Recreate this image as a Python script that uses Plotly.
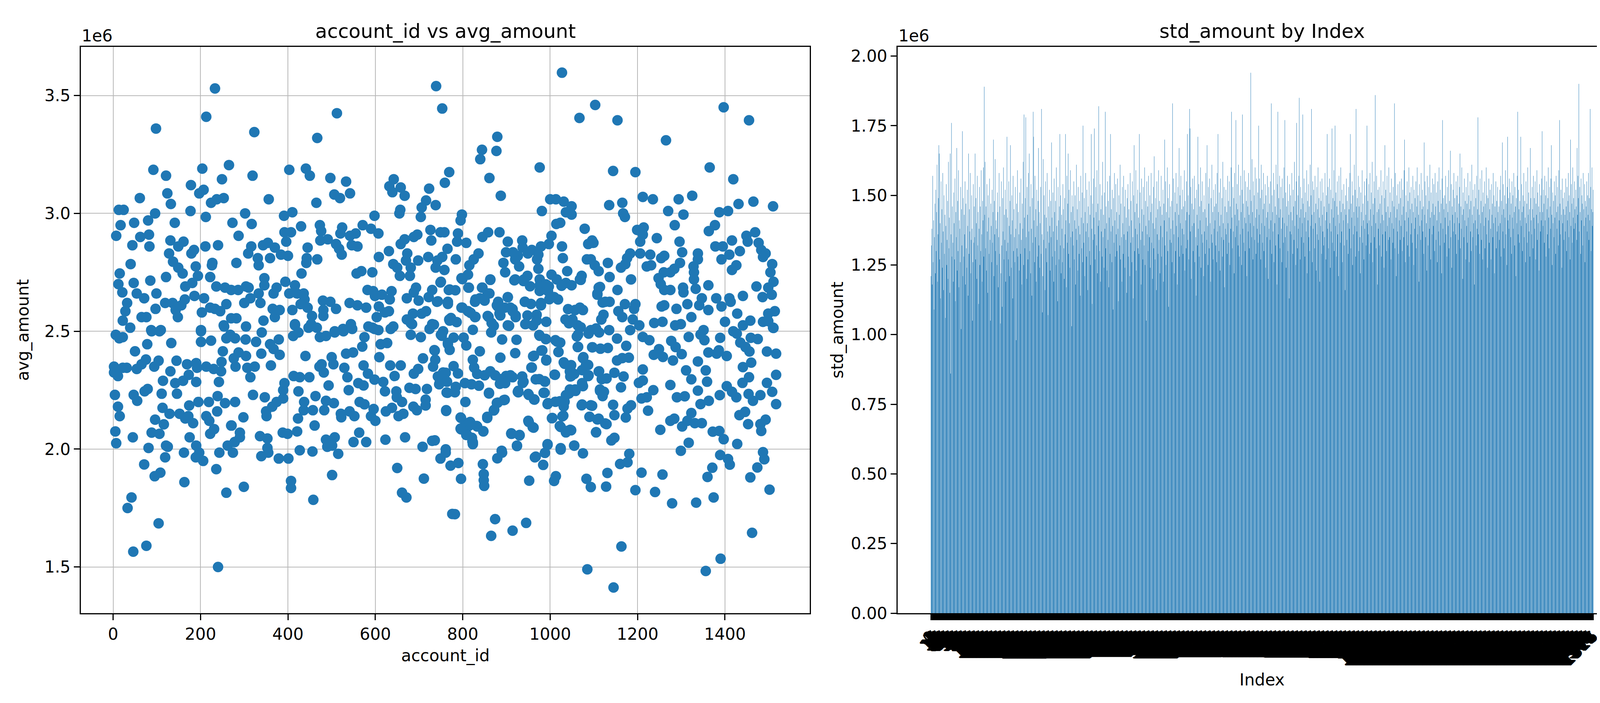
import plotly.graph_objects as go

FONT = "DejaVu Sans"
BLUE = "#1f77b4"

# avg_amount per account_id (millions)
upper_left = [
    (233, 3.53), (213, 3.41), (98, 3.36), (323, 3.345), (467, 3.32), (512, 3.425), (739, 3.54), (753, 3.445),
    (92, 3.185), (121, 3.16), (204, 3.19), (265, 3.205), (249, 3.145), (319, 3.16), (403, 3.185), (441, 3.19),
    (450, 3.16), (497, 3.15), (533, 3.135), (542, 3.085), (506, 3.08), (519, 3.065),
    (642, 3.145), (632, 3.115), (639, 3.09), (658, 3.11), (667, 3.075), (723, 3.105), (738, 3.035), (716, 3.055),
    (706, 3.025), (759, 3.13), (769, 3.175),
    (61, 3.065), (13, 3.015), (24, 3.015), (17, 2.95), (7, 2.905), (48, 2.96), (80, 2.97), (96, 3.0), (124, 3.085),
    (132, 3.04), (141, 2.96), (178, 3.12), (207, 3.10), (197, 3.085), (177, 3.01), (212, 2.985), (224, 3.045),
    (237, 3.06), (253, 3.065), (302, 3.0), (317, 2.955), (273, 2.96), (287, 2.905), (356, 3.06), (391, 2.99),
    (410, 3.005), (392, 2.92), (407, 2.92), (465, 3.045), (430, 2.945), (473, 2.95), (476, 2.925), (598, 2.99),
    (607, 2.915), (590, 2.935), (655, 3.0), (657, 3.015), (704, 2.985), (726, 2.93), (749, 2.92), (758, 2.92),
    (728, 2.885), (524, 2.94), (520, 2.915), (542, 2.905), (555, 2.915), (571, 2.95),
    (474, 2.885), (491, 2.89), (510, 2.87), (517, 2.85), (523, 2.825), (546, 2.865), (559, 2.86),
    (445, 2.855), (431, 2.745), (442, 2.79), (443, 2.81), (467, 2.805),
    (396, 2.88), (400, 2.82), (384, 2.825), (370, 2.855), (354, 2.875), (343, 2.865), (359, 2.81), (331, 2.81),
    (333, 2.78), (309, 2.83), (316, 2.86), (282, 2.79), (240, 2.865), (211, 2.86), (227, 2.79), (226, 2.78),
    (189, 2.775), (194, 2.735), (222, 2.73), (179, 2.83), (185, 2.845), (161, 2.88), (149, 2.86), (131, 2.885),
    (128, 2.83), (137, 2.795), (149, 2.77), (159, 2.745),
    (83, 2.86), (82, 2.91), (62, 2.90), (44, 2.865), (40, 2.785), (15, 2.745), (12, 2.70), (21, 2.665), (47, 2.705),
    (85, 2.715), (99, 2.66), (121, 2.73), (32, 2.62), (28, 2.585), (22, 2.545), (39, 2.515), (54, 2.66), (71, 2.64),
    (65, 2.56), (76, 2.56), (97, 2.595), (106, 2.50), (87, 2.505), (6, 2.485),
    (119, 2.62), (136, 2.62), (143, 2.59), (148, 2.56), (156, 2.61), (164, 2.635), (165, 2.69), (181, 2.705),
    (186, 2.65), (208, 2.64), (203, 2.58), (201, 2.505), (222, 2.60), (233, 2.595), (245, 2.585), (253, 2.525),
    (259, 2.615), (256, 2.685), (236, 2.69), (270, 2.675), (286, 2.675), (304, 2.69), (310, 2.685), (300, 2.62),
    (314, 2.64), (270, 2.555), (282, 2.555), (304, 2.52), (268, 2.485),
    (333, 2.66), (337, 2.62), (344, 2.545), (340, 2.495), (346, 2.725), (346, 2.695), (367, 2.66), (374, 2.685),
    (365, 2.595), (370, 2.56), (381, 2.59), (394, 2.71), (403, 2.66), (416, 2.695), (410, 2.59), (421, 2.66),
    (436, 2.66), (438, 2.635), (429, 2.615), (445, 2.60), (416, 2.525), (453, 2.53), (466, 2.515), (455, 2.565),
    (480, 2.63), (497, 2.625), (481, 2.59), (481, 2.565), (510, 2.595), (541, 2.62), (559, 2.61), (579, 2.60),
    (582, 2.675), (595, 2.67), (599, 2.65), (615, 2.655), (637, 2.67), (633, 2.635), (622, 2.58), (631, 2.585),
    (603, 2.56), (608, 2.605), (584, 2.52), (544, 2.53), (507, 2.50), (526, 2.51), (598, 2.51), (635, 2.51),
    (607, 2.505),
    (641, 2.785), (650, 2.77), (656, 2.735), (631, 2.84), (608, 2.815), (593, 2.75), (557, 2.745), (568, 2.755),
    (673, 2.83), (670, 2.80), (681, 2.77), (679, 2.735), (658, 2.87), (667, 2.89), (688, 2.90), (696, 2.91),
    (698, 2.80), (721, 2.815), (742, 2.80), (753, 2.815), (738, 2.77), (758, 2.76), (765, 2.85), (693, 2.685),
    (688, 2.665), (672, 2.64), (699, 2.63), (722, 2.645), (730, 2.675), (750, 2.71), (741, 2.625), (768, 2.675),
    (766, 2.625), (672, 2.55), (686, 2.575), (706, 2.575), (716, 2.585), (730, 2.53), (755, 2.50), (769, 2.55),
    (684, 2.53),
]

lower_left = [
    (240, 1.50), (46, 1.565), (76, 1.59), (104, 1.685), (33, 1.75), (42, 1.795), (163, 1.86), (95, 1.885),
    (108, 1.90), (71, 1.935), (236, 1.915), (259, 1.815), (299, 1.84), (407, 1.865), (407, 1.835), (458, 1.785),
    (501, 1.89), (650, 1.92), (661, 1.815), (671, 1.795), (711, 1.875), (708, 2.01), (730, 2.035), (749, 1.96),
    (761, 1.985), (772, 1.93), (776, 1.725),
    (7, 2.025), (5, 2.075), (45, 2.05), (81, 2.005), (88, 2.07), (106, 2.065), (96, 2.125), (116, 2.105),
    (121, 2.015), (125, 2.01), (119, 1.965), (162, 1.985), (175, 2.05), (190, 2.015), (197, 1.985), (189, 1.965),
    (206, 1.95), (243, 1.985), (222, 2.065), (231, 2.085), (274, 1.985), (262, 2.015), (278, 2.03), (290, 2.05),
    (290, 2.07), (271, 2.10), (298, 2.135), (339, 1.97), (353, 2.005), (355, 1.985), (353, 2.045), (336, 2.055),
    (379, 1.96), (401, 1.96), (388, 2.07), (399, 2.065), (421, 2.075), (427, 1.995), (456, 1.99), (461, 2.10),
    (487, 2.04), (490, 2.01), (507, 2.05), (501, 2.015), (515, 1.98), (550, 2.03), (563, 2.07), (579, 2.03),
    (623, 2.04), (668, 2.05),
    (2, 2.35), (2, 2.325), (11, 2.31), (4, 2.23), (11, 2.18), (15, 2.14), (22, 2.345), (31, 2.345), (54, 2.34),
    (50, 2.415), (47, 2.23), (55, 2.205), (65, 2.36), (75, 2.38), (72, 2.245), (79, 2.255), (94, 2.35),
    (104, 2.375), (111, 2.235), (113, 2.175), (129, 2.15), (114, 2.29), (131, 2.33), (142, 2.28), (146, 2.235),
    (145, 2.375), (152, 2.15), (165, 2.13), (183, 2.11), (172, 2.14), (174, 2.185), (173, 2.315), (160, 2.29),
    (169, 2.36), (190, 2.365), (192, 2.345), (190, 2.285), (195, 2.20), (213, 2.35), (219, 2.20), (213, 2.14),
    (220, 2.12), (230, 2.34), (238, 2.16), (239, 2.225), (242, 2.285), (247, 2.33), (248, 2.37), (251, 2.415),
    (256, 2.195), (279, 2.20), (270, 2.10), (280, 2.35), (276, 2.385), (287, 2.41), (304, 2.395), (307, 2.345),
    (314, 2.305), (324, 2.35), (320, 2.23), (339, 2.405), (347, 2.22), (350, 2.16), (351, 2.14), (364, 2.18),
    (361, 2.355), (367, 2.425), (381, 2.40), (389, 2.25), (392, 2.28), (389, 2.215), (374, 2.20), (413, 2.31),
    (424, 2.245), (427, 2.305), (423, 2.13), (437, 2.20), (436, 2.165), (440, 2.395), (449, 2.305), (457, 2.165),
    (463, 2.225), (472, 2.35), (477, 2.36), (482, 2.325), (487, 2.205), (493, 2.27), (483, 2.165), (500, 2.39),
    (504, 2.36), (505, 2.195), (522, 2.135), (521, 2.15), (529, 2.345), (533, 2.405), (536, 2.305), (539, 2.25),
    (541, 2.16), (549, 2.41), (552, 2.14), (561, 2.28), (564, 2.20), (570, 2.435), (573, 2.355), (573, 2.27),
    (575, 2.19), (590, 2.14), (596, 2.17), (600, 2.12), (583, 2.32), (598, 2.295), (609, 2.39), (618, 2.285),
    (622, 2.245), (624, 2.16), (634, 2.355), (638, 2.175), (644, 2.31), (648, 2.245), (653, 2.14), (649, 2.22),
    (658, 2.355), (664, 2.15), (661, 2.20), (678, 2.26), (688, 2.32), (692, 2.255), (695, 2.165), (687, 2.18),
    (698, 2.34), (709, 2.385), (718, 2.255), (715, 2.185), (715, 2.21), (732, 2.35), (735, 2.42), (755, 2.325),
    (763, 2.24), (762, 2.165), (747, 2.28), (758, 2.29),
    (14, 2.47), (22, 2.475), (78, 2.445), (88, 2.50), (109, 2.505), (133, 2.45), (201, 2.50), (201, 2.455),
    (224, 2.46), (254, 2.52), (259, 2.47), (279, 2.47), (303, 2.465), (327, 2.455), (359, 2.445), (379, 2.465),
    (416, 2.53), (412, 2.48), (424, 2.495), (447, 2.515), (473, 2.475), (487, 2.48), (507, 2.495), (527, 2.50),
    (547, 2.51), (575, 2.475), (593, 2.515), (612, 2.445), (627, 2.45), (641, 2.52), (681, 2.535), (681, 2.485),
    (704, 2.475), (724, 2.51), (750, 2.485), (766, 2.445), (770, 2.545),
]

upper_right = [
    (1027, 3.597), (1103, 3.46), (1067, 3.405), (1154, 3.395), (1397, 3.45), (1455, 3.395), (1265, 3.31),
    (879, 3.325), (844, 3.27), (840, 3.23), (877, 3.265), (976, 3.195), (861, 3.15), (887, 3.075), (1144, 3.18),
    (1195, 3.175), (1365, 3.195), (1419, 3.145), (1212, 3.07), (1235, 3.06), (1325, 3.075), (1294, 3.06),
    (1465, 3.05), (1431, 3.04), (1510, 3.03), (1135, 3.035), (1165, 3.045), (1167, 3.0), (1171, 2.985),
    (1000, 3.06), (1013, 3.06), (1031, 3.05), (1049, 3.03), (1036, 3.005), (1049, 2.995), (981, 3.01),
    (1270, 3.01), (1305, 2.995), (1387, 3.005), (1407, 3.01), (1377, 2.95), (1363, 2.925), (1285, 2.95),
    (1014, 2.955), (1023, 2.96), (1079, 2.935), (1199, 2.93), (1214, 2.94), (1212, 2.91), (1206, 2.88),
    (1244, 2.895),
    (1469, 2.92), (1449, 2.905), (1452, 2.88), (1477, 2.875), (1483, 2.845), (1493, 2.83), (1487, 2.815),
    (1508, 2.785), (1504, 2.75), (1511, 2.71), (1499, 2.685), (1507, 2.655), (1472, 2.69), (1486, 2.645),
    (1514, 2.585), (1499, 2.575), (1510, 2.515), (1487, 2.54), (1458, 2.545), (1441, 2.65), (1434, 2.84),
    (1416, 2.885), (1426, 2.78), (1416, 2.76), (1392, 2.805), (1410, 2.825), (1378, 2.86), (1395, 2.86),
    (1362, 2.695), (1380, 2.64), (1410, 2.64), (1347, 2.64), (1341, 2.61), (1362, 2.59), (1392, 2.605),
    (1413, 2.625), (1428, 2.575), (1441, 2.525), (1419, 2.50), (1400, 2.54), (1323, 2.56), (1314, 2.615),
    (1351, 2.505),
    (1338, 2.83), (1338, 2.805), (1328, 2.775), (1329, 2.75), (1329, 2.72), (1333, 2.68), (1304, 2.685),
    (1305, 2.665), (1302, 2.835), (1296, 2.88), (1297, 2.79), (1284, 2.765), (1275, 2.75), (1260, 2.75),
    (1254, 2.81), (1261, 2.82), (1248, 2.725), (1253, 2.70), (1261, 2.675), (1275, 2.675), (1261, 2.61),
    (1255, 2.605), (1289, 2.595), (1299, 2.53), (1286, 2.525), (1257, 2.54), (1238, 2.535),
    (1206, 2.83), (1229, 2.825), (1231, 2.78), (1221, 2.775), (1183, 2.83), (1176, 2.81), (1172, 2.785),
    (1162, 2.77), (1185, 2.72), (1154, 2.675), (1136, 2.73), (1132, 2.79), (1111, 2.755), (1111, 2.685),
    (1108, 2.66), (1102, 2.78), (1093, 2.805), (1099, 2.875), (1096, 2.885), (1087, 2.87), (1084, 2.805),
    (1126, 2.625), (1136, 2.625), (1122, 2.57), (1117, 2.55), (1135, 2.505), (1093, 2.505), (1057, 2.59),
    (1075, 2.59), (1051, 2.55), (1063, 2.525), (1156, 2.585), (1171, 2.615), (1165, 2.56), (1195, 2.615),
    (1192, 2.595), (1189, 2.55), (1204, 2.525),
    (1039, 2.755), (1072, 2.735), (1068, 2.72), (1036, 2.705), (1049, 2.695), (1003, 2.74), (1015, 2.72),
    (997, 2.69), (995, 2.67), (1009, 2.645), (1018, 2.635), (1027, 2.86), (1029, 2.81), (1003, 2.905),
    (997, 2.87), (979, 2.86), (958, 2.845), (973, 2.825), (970, 2.805), (973, 2.765), (976, 2.72), (976, 2.695),
    (979, 2.62), (979, 2.61), (969, 2.57), (991, 2.54), (961, 2.525), (943, 2.53), (942, 2.625), (936, 2.885),
    (937, 2.855), (949, 2.83), (929, 2.775), (926, 2.82), (920, 2.805), (915, 2.835), (903, 2.88), (899, 2.835),
    (893, 2.79), (897, 2.75), (920, 2.72), (940, 2.72), (948, 2.735), (903, 2.645), (884, 2.92), (858, 2.92),
    (845, 2.90), (836, 2.83), (825, 2.805), (815, 2.78), (812, 2.74), (813, 2.685), (797, 2.725), (797, 2.60),
    (812, 2.585), (828, 2.56), (845, 2.685), (863, 2.72), (857, 2.66), (829, 2.635), (839, 2.64), (857, 2.565),
    (866, 2.535), (878, 2.61), (884, 2.575), (896, 2.60), (903, 2.525), (914, 2.585), (921, 2.56), (881, 2.625),
    (808, 2.875), (789, 2.915), (787, 2.88), (798, 2.995), (795, 2.97), (784, 2.805),
]

lower_right = [
    (1085, 1.49), (1145, 1.413), (1356, 1.483), (1390, 1.535), (1163, 1.587), (1462, 1.645), (865, 1.632),
    (874, 1.703), (914, 1.654), (945, 1.687), (782, 1.724), (1279, 1.77), (1334, 1.773), (1374, 1.795),
    (1502, 1.828), (1240, 1.818), (1195, 1.826), (1093, 1.839), (1128, 1.841), (1257, 1.892), (1209, 1.90),
    (1131, 1.899), (1083, 1.874), (1013, 1.885), (1009, 1.865), (952, 1.866), (848, 1.894), (848, 1.868),
    (849, 1.844), (796, 1.874), (1360, 1.882), (1371, 1.921), (1458, 1.88), (1474, 1.922), (1490, 1.957),
    (1487, 1.987), (1411, 1.934), (1407, 1.958), (1389, 1.975), (1428, 2.022), (1397, 2.042), (1299, 1.993),
    (1317, 2.027), (1160, 1.937), (1177, 1.944), (1181, 1.98), (1140, 2.037), (1147, 2.048), (1075, 1.982),
    (1055, 2.015), (1024, 1.998), (994, 2.018), (988, 1.984), (984, 1.933), (965, 1.965), (924, 2.013),
    (912, 2.065), (930, 2.058), (890, 1.985), (879, 1.961), (846, 1.936), (790, 1.941),
    (796, 2.132), (795, 2.087), (806, 2.11), (815, 2.10), (809, 2.063), (821, 2.048), (823, 2.029), (833, 2.096),
    (847, 2.075), (856, 2.132), (860, 2.239), (872, 2.167), (878, 2.196), (896, 2.209), (885, 2.277), (899, 2.31),
    (914, 2.305), (926, 2.243), (937, 2.281), (950, 2.234), (964, 2.21), (950, 2.12), (962, 2.091), (911, 2.067),
    (967, 1.968), (985, 2.239), (994, 2.191), (988, 2.286), (967, 2.296), (958, 2.346), (961, 2.394),
    (982, 2.419), (991, 2.376), (976, 2.481), (990, 2.467), (1011, 2.315), (1005, 2.132), (1024, 2.094),
    (1030, 2.142), (1039, 2.077), (1048, 2.08), (1012, 2.201), (1033, 2.201), (1036, 2.229), (1045, 2.253),
    (1057, 2.253), (1048, 2.31), (1045, 2.329), (1033, 2.362), (1048, 2.356), (1019, 2.412), (1012, 2.462),
    (1023, 2.452), (1063, 2.433), (1064, 2.486), (1075, 2.386), (1087, 2.357), (1075, 2.267), (1087, 2.31),
    (1072, 2.186), (1096, 2.184), (1090, 2.137), (1111, 2.129), (1129, 2.106), (1105, 2.072), (1144, 2.188),
    (1147, 2.144), (1129, 2.30), (1147, 2.324), (1168, 2.308), (1114, 2.253), (1123, 2.243), (1162, 2.262),
    (1111, 2.329), (1096, 2.432), (1132, 2.429), (1153, 2.376), (1165, 2.386), (1180, 2.388), (1153, 2.469),
    (1174, 2.438), (1183, 2.505), (1212, 2.476), (1227, 2.462), (1249, 2.424), (1237, 2.40), (1258, 2.391),
    (1281, 2.376), (1277, 2.459), (1287, 2.433), (1301, 2.403), (1317, 2.476), (1344, 2.486), (1353, 2.462),
    (1381, 2.405), (1362, 2.41), (1386, 2.419), (1404, 2.395), (1389, 2.472), (1427, 2.49), (1435, 2.452),
    (1441, 2.348), (1447, 2.433), (1456, 2.414), (1459, 2.472), (1475, 2.467), (1496, 2.414), (1517, 2.405),
    (1499, 2.543), (1511, 2.514), (1460, 2.367), (1440, 2.281), (1455, 2.305), (1454, 2.234), (1464, 2.205),
    (1481, 2.229), (1496, 2.281), (1517, 2.315), (1508, 2.243), (1517, 2.191), (1493, 2.125), (1481, 2.106),
    (1483, 2.077), (1453, 2.106), (1446, 2.158), (1433, 2.144), (1404, 2.267), (1416, 2.243), (1426, 2.22),
    (1388, 2.229), (1372, 2.074), (1387, 2.077), (1363, 2.205), (1344, 2.191), (1338, 2.248), (1323, 2.153),
    (1331, 2.11), (1347, 2.11), (1314, 2.12), (1302, 2.096), (1284, 2.129), (1275, 2.12), (1252, 2.082),
    (1290, 2.22), (1308, 2.224), (1275, 2.272), (1311, 2.334), (1323, 2.296), (1338, 2.372), (1356, 2.334),
    (1359, 2.286), (1236, 2.25), (1212, 2.291), (1203, 2.281), (1212, 2.338), (1221, 2.22), (1209, 2.215),
    (1224, 2.163), (1185, 2.186), (1177, 2.172), (1173, 2.134),
]

# closer reading of the dense middle band, account_id 734-1126
center_detail = [
    (749, 2.707), (770, 2.677), (783, 2.674), (743, 2.627), (766, 2.616), (799, 2.721), (814, 2.685), (799, 2.60),
    (818, 2.578), (829, 2.561), (773, 2.556), (786, 2.539), (734, 2.528), (844, 2.685), (861, 2.66), (828, 2.625),
    (850, 2.63), (863, 2.718), (880, 2.605), (886, 2.567), (903, 2.644), (909, 2.60), (914, 2.594), (921, 2.567),
    (859, 2.561), (871, 2.523), (906, 2.523), (942, 2.625), (944, 2.531), (918, 2.716), (939, 2.713), (954, 2.691),
    (956, 2.616), (948, 2.567), (969, 2.545), (976, 2.671), (998, 2.636), (990, 2.699), (1026, 2.693), (1041, 2.594),
    (1068, 2.60), (1035, 2.55), (1043, 2.534), (1070, 2.517), (1114, 2.688), (1108, 2.655), (1120, 2.622),
    (1117, 2.55), (1105, 2.512), (1070, 2.718),
    (752, 2.481), (779, 2.473), (802, 2.473), (808, 2.44), (770, 2.421), (736, 2.418), (737, 2.379), (766, 2.451),
    (823, 2.506), (865, 2.495), (890, 2.465), (923, 2.464), (920, 2.407), (886, 2.388), (839, 2.415), (823, 2.379),
    (826, 2.346), (833, 2.319), (779, 2.352), (761, 2.324), (743, 2.308), (789, 2.321), (746, 2.275), (764, 2.286),
    (784, 2.264), (805, 2.28), (820, 2.275), (837, 2.269), (850, 2.313), (863, 2.33), (874, 2.313), (886, 2.297),
    (897, 2.28), (886, 2.28), (909, 2.313), (936, 2.308), (927, 2.247), (939, 2.286), (957, 2.346), (963, 2.396),
    (980, 2.418), (991, 2.379), (975, 2.484), (990, 2.467), (1016, 2.456), (1019, 2.412), (975, 2.297),
    (987, 2.288), (1010, 2.316), (1031, 2.368), (1046, 2.346), (1055, 2.319), (1046, 2.308), (1073, 2.335),
    (1082, 2.357), (1076, 2.39), (1064, 2.434), (1061, 2.478), (1088, 2.49), (1112, 2.495), (1097, 2.432),
    (1115, 2.426), (1112, 2.33), (1118, 2.297), (1088, 2.313), (1073, 2.28), (1114, 2.247), (1120, 2.225),
    (1058, 2.247),
    (765, 2.239), (782, 2.241), (806, 2.20), (762, 2.162), (795, 2.134), (796, 2.084), (817, 2.115), (808, 2.06),
    (822, 2.032), (832, 2.098), (847, 2.076), (860, 2.236), (880, 2.197), (894, 2.208), (871, 2.164), (856, 2.137),
    (927, 2.241), (951, 2.23), (963, 2.211), (987, 2.239), (995, 2.195), (1004, 2.131), (1022, 2.203),
    (1031, 2.181), (1043, 2.236), (1055, 2.25), (1028, 2.139), (1022, 2.098), (1046, 2.082), (1036, 2.071),
    (1073, 2.189), (1093, 2.186), (1090, 2.137), (1108, 2.126), (1126, 2.109), (1105, 2.071), (951, 2.115),
    (960, 2.093), (911, 2.065), (930, 2.06), (924, 2.015), (994, 2.021), (1024, 2.004), (1055, 2.015),
    (736, 2.037), (761, 1.999), (889, 1.993), (823, 2.021),
]

# std_amount by row index (millions), 25 rows per line
std_amount = [
    1.21, 1.32, 1.38, 1.18, 1.57, 1.26, 1.41, 1.09, 1.35, 1.47, 1.22, 1.52, 1.30, 1.44, 1.61, 1.19, 1.36, 1.49, 1.68, 1.65, 1.27, 1.40, 1.13, 1.55, 1.33,
    1.45, 1.24, 1.58, 1.37, 1.16, 1.50, 1.29, 1.43, 1.06, 1.39, 1.54, 1.25, 1.34, 1.48, 1.20, 1.62, 1.31, 1.42, 1.15, 1.65, 0.86, 1.36, 1.76, 1.28, 1.46,
    1.33, 1.19, 1.51, 1.40, 1.27, 1.56, 1.12, 1.44, 1.35, 1.67, 1.23, 1.48, 1.30, 1.59, 1.17, 1.41, 1.38, 1.26, 1.53, 1.02, 1.45, 1.32, 1.73, 1.21, 1.49,
    1.28, 1.43, 1.36, 1.55, 1.18, 1.47, 1.31, 1.24, 1.52, 1.39, 1.14, 1.65, 1.29, 1.45, 1.37, 1.58, 1.22, 1.34, 1.50, 1.38, 1.05, 1.26, 1.54, 1.33, 1.46,
    1.35, 1.65, 1.27, 1.49, 1.40, 1.20, 1.57, 1.32, 1.44, 1.11, 1.38, 1.53, 1.25, 1.46, 1.30, 1.59, 1.36, 1.19, 1.48, 1.41, 1.60, 1.28, 1.89, 1.43, 1.62,
    1.31, 1.46, 1.23, 1.54, 1.37, 1.15, 1.50, 1.42, 1.29, 1.56, 1.34, 1.05, 1.47, 1.39, 1.26, 1.52, 1.33, 1.44, 1.70, 1.21, 1.48, 1.36, 1.63, 1.30, 1.41,
    1.38, 1.25, 1.51, 1.44, 1.17, 1.35, 1.58, 1.29, 1.46, 1.04, 1.22, 1.55, 1.32, 1.10, 1.49, 1.37, 1.60, 1.27, 1.43, 1.34, 1.52, 1.19, 1.45, 1.30, 1.71,
    1.42, 1.33, 1.27, 1.55, 1.39, 1.21, 1.48, 1.68, 1.36, 1.24, 1.50, 1.41, 1.13, 1.57, 1.30, 1.45, 1.35, 1.26, 1.53, 1.38, 0.98, 1.47, 1.31, 1.59, 1.28,
    1.44, 1.36, 1.23, 1.51, 1.40, 1.29, 1.56, 1.34, 1.18, 1.47, 1.38, 1.62, 1.25, 1.79, 1.42, 1.31, 1.49, 1.78, 1.35, 1.20, 1.53, 1.43, 1.27, 1.58, 1.37,
    1.65, 1.30, 1.46, 1.22, 1.54, 1.38, 1.14, 1.49, 1.33, 1.80, 1.71, 1.41, 1.26, 1.57, 1.35, 1.45, 1.19, 1.52, 1.39, 1.28, 1.48, 1.67, 1.32, 1.44, 1.24,
    1.40, 1.53, 1.29, 1.81, 1.36, 1.08, 1.21, 1.63, 1.34, 1.50, 1.43, 1.16, 1.55, 1.31, 1.42, 1.26, 1.58, 1.37, 1.07, 1.46, 1.33, 1.52, 1.39, 1.23, 1.48,
    1.35, 1.69, 1.42, 1.28, 1.51, 1.37, 1.19, 1.56, 1.44, 1.30, 1.48, 1.25, 1.60, 1.39, 1.34, 1.12, 1.53, 1.41, 1.27, 1.46, 1.72, 1.32, 1.50, 1.22, 1.43,
    1.38, 1.26, 1.54, 1.45, 1.31, 1.20, 1.49, 1.36, 1.72, 1.41, 1.17, 1.57, 1.33, 1.47, 1.65, 1.29, 1.52, 1.40, 1.24, 1.59, 1.35, 1.44, 1.03, 1.50, 1.37,
    1.46, 1.32, 1.55, 1.27, 1.41, 1.50, 1.18, 1.38, 1.61, 1.34, 1.45, 1.23, 1.53, 1.39, 1.29, 1.48, 1.36, 1.14, 1.57, 1.42, 1.31, 1.51, 1.26, 1.75, 1.40,
    1.33, 1.49, 1.21, 1.44, 1.58, 1.37, 1.28, 1.52, 1.40, 1.16, 1.46, 1.35, 1.55, 1.30, 1.43, 1.25, 1.50, 1.72, 1.38, 1.11, 1.47, 1.34, 1.56, 1.42, 1.74,
    1.36, 1.27, 1.53, 1.44, 1.32, 1.59, 1.22, 1.47, 1.39, 1.82, 1.41, 1.30, 1.54, 1.19, 1.45, 1.37, 1.50, 1.28, 1.62, 1.35, 1.43, 1.24, 1.51, 1.38, 1.80,
    1.31, 1.46, 1.40, 1.23, 1.55, 1.34, 1.48, 1.17, 1.42, 1.57, 1.29, 1.72, 1.37, 1.45, 1.26, 1.52, 1.39, 1.09, 1.49, 1.33, 1.58, 1.41, 1.28, 1.54, 1.36,
    1.44, 1.30, 1.56, 1.38, 1.12, 1.50, 1.43, 1.32, 1.61, 1.27, 1.47, 1.35, 1.19, 1.53, 1.40, 1.29, 1.57, 1.36, 1.46, 1.24, 1.52, 1.34, 1.42, 1.15, 1.49,
    1.37, 1.54, 1.28, 1.45, 1.39, 1.21, 1.58, 1.33, 1.48, 1.41, 1.26, 1.55, 1.35, 1.13, 1.50, 1.68, 1.30, 1.44, 1.38, 1.59, 1.23, 1.47, 1.36, 1.52, 1.31,
    1.42, 1.29, 1.72, 1.40, 1.51, 1.34, 1.18, 1.56, 1.45, 1.37, 1.27, 1.53, 1.43, 1.32, 1.60, 1.25, 1.48, 1.39, 1.05, 1.55, 1.36, 1.46, 1.30, 1.57, 1.41,
    1.35, 1.50, 1.24, 1.44, 1.58, 1.33, 1.47, 1.20, 1.40, 1.53, 1.31, 1.64, 1.38, 1.27, 1.49, 1.42, 1.16, 1.55, 1.36, 1.45, 1.29, 1.59, 1.34, 1.48, 1.22,
    1.46, 1.39, 1.57, 1.28, 1.43, 1.35, 1.52, 1.19, 1.47, 1.41, 1.70, 1.32, 1.55, 1.25, 1.44, 1.37, 1.60, 1.30, 1.49, 1.10, 1.42, 1.54, 1.34, 1.46, 1.38,
    1.33, 1.48, 1.26, 1.83, 1.41, 1.56, 1.36, 1.22, 1.51, 1.44, 1.30, 1.58, 1.39, 1.47, 1.18, 1.53, 1.35, 1.43, 1.67, 1.28, 1.50, 1.40, 1.57, 1.32, 1.45,
    1.38, 1.52, 1.29, 1.46, 1.36, 1.59, 1.23, 1.48, 1.41, 1.31, 1.55, 1.44, 1.72, 1.34, 1.50, 1.27, 1.43, 1.81, 1.74, 1.37, 1.53, 1.20, 1.47, 1.39, 1.56,
    1.30, 1.45, 1.40, 1.57, 1.26, 1.49, 1.35, 1.14, 1.52, 1.43, 1.32, 1.71, 1.38, 1.54, 1.28, 1.46, 1.41, 1.60, 1.24, 1.48, 1.36, 1.55, 1.33, 1.44, 1.21,
    1.50, 1.37, 1.45, 1.29, 1.58, 1.42, 1.34, 1.68, 1.39, 1.25, 1.53, 1.47, 1.31, 1.56, 1.40, 1.19, 1.49, 1.36, 1.61, 1.33, 1.44, 1.27, 1.52, 1.38, 1.46,
    1.41, 1.54, 1.32, 1.47, 1.26, 1.58, 1.37, 1.72, 1.44, 1.30, 1.51, 1.39, 1.23, 1.56, 1.43, 1.35, 1.49, 1.28, 1.62, 1.40, 1.34, 1.53, 1.17, 1.46, 1.38,
    1.52, 1.36, 1.44, 1.29, 1.57, 1.40, 1.48, 1.33, 1.55, 1.25, 1.46, 1.38, 1.60, 1.80, 1.42, 1.31, 1.53, 1.37, 1.49, 1.22, 1.58, 1.43, 1.35, 1.77, 1.47,
    1.39, 1.54, 1.45, 1.32, 1.61, 1.41, 1.28, 1.50, 1.36, 1.57, 1.44, 1.25, 1.52, 1.79, 1.38, 1.47, 1.33, 1.59, 1.42, 1.30, 1.55, 1.40, 1.48, 1.21, 1.53,
    1.46, 1.37, 1.58, 1.43, 1.31, 1.52, 1.40, 1.94, 1.48, 1.35, 1.63, 1.44, 1.27, 1.55, 1.39, 1.50, 1.34, 1.60, 1.42, 1.29, 1.56, 1.45, 1.38, 1.51, 1.33,
    1.75, 1.43, 1.56, 1.36, 1.49, 1.27, 1.61, 1.40, 1.52, 1.33, 1.45, 1.58, 1.30, 1.47, 1.39, 1.54, 1.24, 1.50, 1.42, 1.35, 1.57, 1.44, 1.20, 1.53, 1.38,
    1.47, 1.34, 1.55, 1.41, 1.83, 1.29, 1.50, 1.44, 1.37, 1.58, 1.26, 1.52, 1.40, 1.46, 1.32, 1.61, 1.43, 1.18, 1.54, 1.80, 1.36, 1.49, 1.42, 1.57, 1.31,
    1.45, 1.53, 1.38, 1.26, 1.56, 1.42, 1.49, 1.33, 1.60, 1.40, 1.77, 1.35, 1.51, 1.24, 1.46, 1.39, 1.57, 1.30, 1.48, 1.43, 1.13, 1.54, 1.37, 1.50, 1.44,
    1.36, 1.58, 1.41, 1.29, 1.52, 1.46, 1.34, 1.62, 1.39, 1.48, 1.25, 1.55, 1.76, 1.43, 1.31, 1.50, 1.38, 1.57, 1.85, 1.42, 1.27, 1.53, 1.45, 1.35, 1.49,
    1.40, 1.79, 1.47, 1.33, 1.56, 1.42, 1.28, 1.51, 1.44, 1.37, 1.59, 1.22, 1.48, 1.41, 1.54, 1.35, 1.46, 1.30, 1.61, 1.39, 1.50, 1.81, 1.43, 1.26, 1.55,
    1.38, 1.52, 1.44, 1.31, 1.57, 1.40, 1.47, 1.23, 1.53, 1.36, 1.45, 1.60, 1.34, 1.49, 1.42, 1.19, 1.55, 1.39, 1.48, 1.29, 1.56, 1.43, 1.37, 1.51, 1.32,
    1.46, 1.35, 1.58, 1.41, 1.27, 1.50, 1.44, 1.72, 1.38, 1.53, 1.31, 1.47, 1.56, 1.40, 1.24, 1.52, 1.37, 1.45, 1.74, 1.33, 1.49, 1.42, 1.59, 1.30, 1.48,
    1.75, 1.39, 1.51, 1.28, 1.46, 1.55, 1.36, 1.43, 1.21, 1.57, 1.40, 1.48, 1.33, 1.60, 1.44, 1.37, 1.52, 1.26, 1.47, 1.41, 1.54, 1.32, 1.45, 1.16, 1.50,
    1.43, 1.56, 1.34, 1.48, 1.40, 1.29, 1.53, 1.45, 1.38, 1.58, 1.72, 1.31, 1.47, 1.42, 1.55, 1.25, 1.50, 1.36, 1.44, 1.61, 1.39, 1.52, 1.28, 1.81, 1.46,
    1.37, 1.49, 1.42, 1.57, 1.30, 1.46, 1.53, 1.35, 1.22, 1.51, 1.44, 1.39, 1.59, 1.33, 1.47, 1.41, 1.27, 1.55, 1.38, 1.50, 1.43, 1.32, 1.56, 1.75, 1.40,
    1.48, 1.36, 1.54, 1.41, 1.29, 1.58, 1.45, 1.33, 1.51, 1.39, 1.62, 1.26, 1.47, 1.43, 1.55, 1.35, 1.49, 1.86, 1.40, 1.31, 1.57, 1.44, 1.18, 1.52, 1.38,
    1.45, 1.53, 1.32, 1.47, 1.40, 1.59, 1.28, 1.50, 1.43, 1.36, 1.55, 1.41, 1.24, 1.49, 1.68, 1.37, 1.52, 1.44, 1.30, 1.57, 1.39, 1.46, 1.34, 1.60, 1.42,
    1.35, 1.51, 1.44, 1.27, 1.56, 1.40, 1.48, 1.33, 1.53, 1.38, 1.46, 1.83, 1.31, 1.58, 1.42, 1.21, 1.50, 1.45, 1.37, 1.54, 1.29, 1.47, 1.41, 1.55, 1.34,
    1.49, 1.39, 1.56, 1.43, 1.30, 1.52, 1.46, 1.35, 1.59, 1.70, 1.41, 1.26, 1.50, 1.44, 1.37, 1.55, 1.32, 1.48, 1.42, 1.60, 1.28, 1.51, 1.45, 1.36, 1.53,
    1.40, 1.47, 1.33, 1.57, 1.44, 1.25, 1.52, 1.38, 1.49, 1.42, 1.55, 1.31, 1.46, 1.60, 1.36, 1.50, 1.43, 1.19, 1.54, 1.39, 1.48, 1.34, 1.58, 1.41, 1.45,
    1.52, 1.37, 1.46, 1.29, 1.69, 1.43, 1.55, 1.35, 1.50, 1.40, 1.23, 1.57, 1.45, 1.32, 1.53, 1.48, 1.38, 1.61, 1.42, 1.27, 1.51, 1.44, 1.36, 1.56, 1.47,
    1.39, 1.54, 1.43, 1.30, 1.58, 1.46, 1.34, 1.51, 1.41, 1.26, 1.55, 1.48, 1.37, 1.60, 1.44, 1.32, 1.52, 1.40, 1.47, 1.22, 1.56, 1.77, 1.38, 1.49, 1.45,
    1.33, 1.50, 1.42, 1.57, 1.36, 1.47, 1.28, 1.53, 1.44, 1.39, 1.59, 1.31, 1.48, 1.41, 1.66, 1.35, 1.54, 1.24, 1.46, 1.43, 1.52, 1.37, 1.58, 1.40, 1.49,
    1.44, 1.36, 1.55, 1.29, 1.50, 1.42, 1.57, 1.34, 1.47, 1.40, 1.53, 1.65, 1.31, 1.46, 1.38, 1.60, 1.43, 1.20, 1.51, 1.45, 1.35, 1.56, 1.41, 1.48, 1.27,
    1.53, 1.39, 1.47, 1.33, 1.58, 1.42, 1.50, 1.26, 1.45, 1.55, 1.37, 1.48, 1.30, 1.61, 1.43, 1.35, 1.52, 1.40, 1.46, 1.18, 1.54, 1.41, 1.49, 1.32, 1.57,
    1.38, 1.45, 1.78, 1.36, 1.52, 1.43, 1.29, 1.56, 1.40, 1.48, 1.34, 1.59, 1.44, 1.27, 1.51, 1.46, 1.39, 1.55, 1.31, 1.47, 1.42, 1.60, 1.36, 1.50, 1.24,
    1.49, 1.41, 1.56, 1.33, 1.45, 1.52, 1.38, 1.27, 1.54, 1.43, 1.47, 1.35, 1.58, 1.40, 1.50, 1.22, 1.46, 1.42, 1.55, 1.31, 1.48, 1.37, 1.53, 1.44, 1.39,
    1.46, 1.34, 1.52, 1.40, 1.57, 1.28, 1.48, 1.43, 1.69, 1.37, 1.54, 1.45, 1.31, 1.50, 1.42, 1.59, 1.36, 1.47, 1.25, 1.53, 1.71, 1.41, 1.49, 1.38, 1.56,
    1.43, 1.51, 1.35, 1.47, 1.29, 1.55, 1.42, 1.50, 1.38, 1.58, 1.44, 1.32, 1.53, 1.46, 1.21, 1.49, 1.40, 1.57, 1.80, 1.36, 1.52, 1.45, 1.33, 1.48, 1.41,
    1.71, 1.39, 1.54, 1.44, 1.30, 1.50, 1.46, 1.58, 1.35, 1.48, 1.42, 1.26, 1.55, 1.40, 1.47, 1.33, 1.60, 1.43, 1.51, 1.37, 1.45, 1.28, 1.67, 1.49, 1.41,
    1.36, 1.53, 1.45, 1.31, 1.57, 1.42, 1.49, 1.38, 1.55, 1.27, 1.47, 1.43, 1.59, 1.34, 1.51, 1.40, 1.46, 1.23, 1.54, 1.44, 1.37, 1.50, 1.41, 1.56, 1.73,
    1.44, 1.39, 1.52, 1.47, 1.33, 1.57, 1.41, 1.50, 1.28, 1.55, 1.45, 1.36, 1.49, 1.60, 1.42, 1.31, 1.53, 1.46, 1.38, 1.56, 1.68, 1.43, 1.25, 1.51, 1.40,
    1.48, 1.35, 1.55, 1.42, 1.50, 1.29, 1.57, 1.44, 1.38, 1.53, 1.46, 1.32, 1.59, 1.41, 1.77, 1.47, 1.36, 1.52, 1.43, 1.24, 1.56, 1.40, 1.49, 1.45, 1.34,
    1.51, 1.43, 1.37, 1.56, 1.46, 1.30, 1.53, 1.41, 1.48, 1.58, 1.35, 1.50, 1.44, 1.27, 1.70, 1.39, 1.54, 1.47, 1.33, 1.60, 1.42, 1.49, 1.38, 1.55, 1.45,
    1.40, 1.52, 1.46, 1.34, 1.67, 1.43, 1.57, 1.49, 1.90, 1.37, 1.53, 1.44, 1.29, 1.56, 1.41, 1.50, 1.47, 1.32, 1.58, 1.45, 1.39, 1.54, 1.26, 1.48, 1.42,
    1.46, 1.55, 1.37, 1.50, 1.43, 1.58, 1.34, 1.49, 1.41, 1.81, 1.53, 1.30, 1.45, 1.60, 1.39, 1.44, 1.52,
]

x_ticks = [0, 200, 400, 600, 800, 1000, 1200, 1400]
avg_ticks = [1.5, 2.0, 2.5, 3.0, 3.5]
std_ticks = [0.0, 0.25, 0.5, 0.75, 1.0, 1.25, 1.5, 1.75, 2.0]

points = upper_left + lower_left + upper_right + lower_right + center_detail
account_id = [p[0] for p in points]
avg_amount = [p[1] for p in points]
n = len(std_amount)
index = list(range(n))

W, H = 4200, 1800
def fx(px):
    return px / W
def fy(py):
    return 1 - py / H

TOP, BOT = 112, 1562
L1, R1 = 199, 2065
L2, R2 = 2290, 4156

fig = go.Figure()
fig.add_trace(go.Scatter(
    x=account_id, y=avg_amount, mode="markers",
    marker=dict(color=BLUE, size=27, line=dict(width=0)),
    xaxis="x", yaxis="y", showlegend=False,
))
# a colour alpha just under 1 stops plotly from widening the ~1px bars, so the white gaps stay
fig.add_trace(go.Bar(
    x=index, y=std_amount, width=0.8,
    marker=dict(color="rgba(31,119,180,0.99)", line=dict(width=0)),
    xaxis="x2", yaxis="y2", showlegend=False,
))

tick_font = dict(family=FONT, size=42, color="black")
axis_common = dict(
    showline=True, linecolor="black", linewidth=3, mirror=True,
    ticks="outside", ticklen=15, tickwidth=3, tickcolor="black",
    tickfont=tick_font, zeroline=False, automargin=False,
)

span = 1.1 * (n - 0.2)
fig.update_layout(
    width=W, height=H,
    margin=dict(l=0, r=0, t=0, b=0),
    paper_bgcolor="white", plot_bgcolor="white",
    font=dict(family=FONT, color="black"),
    xaxis=dict(domain=[fx(L1), fx(R1)], range=[-73.9, 1594], tickmode="array", tickvals=x_ticks,
               showgrid=True, gridcolor="#b8b8b8", gridwidth=1.5, anchor="y", **axis_common),
    yaxis=dict(domain=[fy(BOT), fy(TOP)], range=[1.304, 3.7065], tickmode="array", tickvals=avg_ticks,
               tickformat=".1f", showgrid=True, gridcolor="#b8b8b8", gridwidth=1.5, anchor="x", **axis_common),
    xaxis2=dict(domain=[fx(L2), fx(R2)], range=[-0.4 - 0.05 * (n - 0.2), -0.4 - 0.05 * (n - 0.2) + span],
                tickmode="array", tickvals=index, ticktext=[str(i) for i in index], tickangle=-45,
                showgrid=False, anchor="y2", **axis_common),
    yaxis2=dict(domain=[fy(BOT), fy(TOP)], range=[0, 2.033], tickmode="array", tickvals=std_ticks,
                tickformat=".2f", showgrid=False, anchor="x2", **axis_common),
)

ann = []
def label(text, x, y, size=42, angle=0, xanchor="center", yanchor="middle"):
    ann.append(dict(text=text, x=x, y=y, xref="paper", yref="paper", showarrow=False,
                    textangle=angle, xanchor=xanchor, yanchor=yanchor,
                    font=dict(family=FONT, size=size, color="black")))

label("account_id vs avg_amount", fx((L1 + R1) / 2), fy(72), size=50)
label("std_amount by Index", fx((L2 + R2) / 2), fy(72), size=50)
label("account_id", fx((L1 + R1) / 2), fy(1670))
label("Index", fx((L2 + R2) / 2), fy(1732))
label("avg_amount", fx(50), fy((TOP + BOT) / 2), angle=-90)
label("std_amount", fx(2135), fy((TOP + BOT) / 2), angle=-90)
label("1e6", fx(L1), fy(84), xanchor="left")
label("1e6", fx(L2), fy(84), xanchor="left")
fig.update_layout(annotations=ann)

fig.write_html("out.html")
